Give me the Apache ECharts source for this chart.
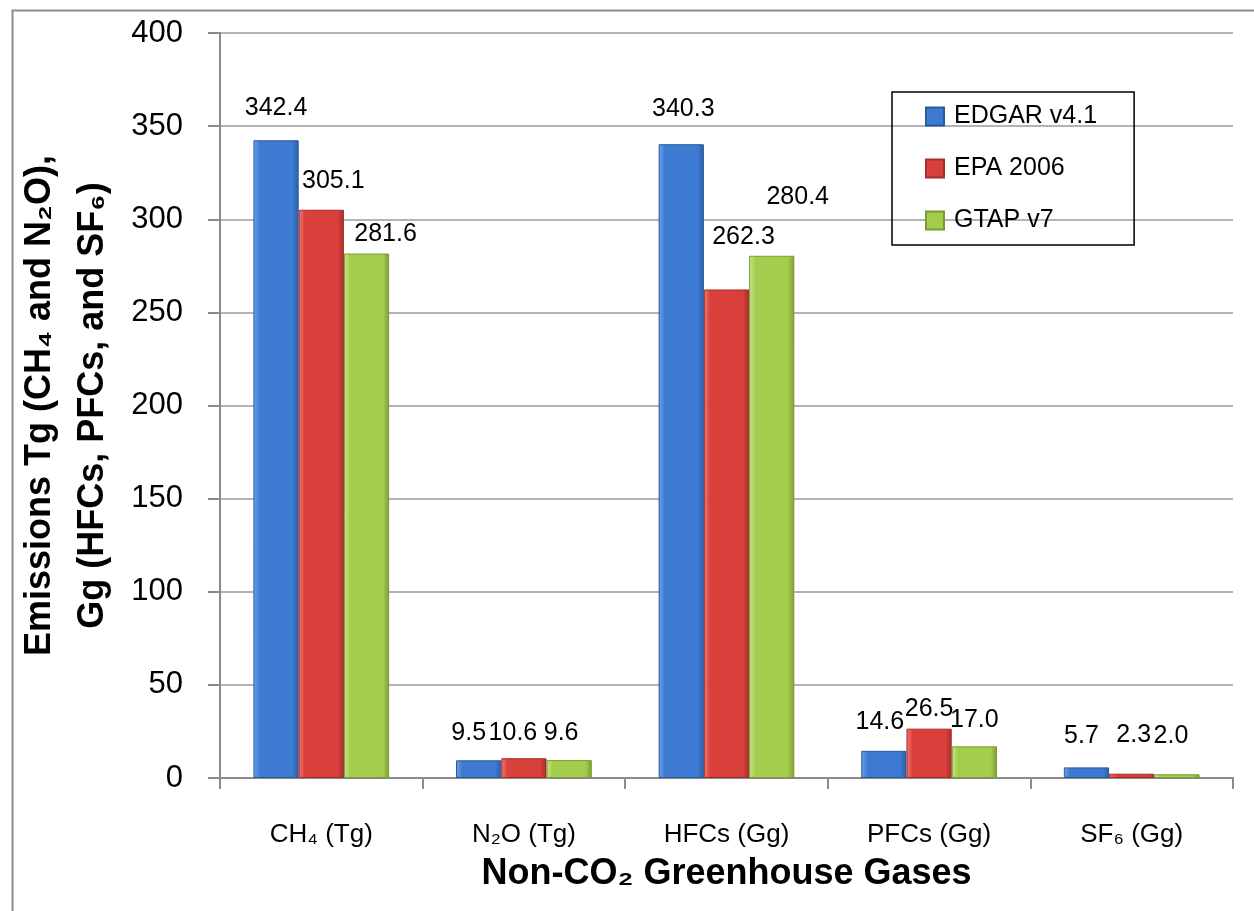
<!DOCTYPE html>
<html><head><meta charset="utf-8">
<script src="https://cdn.jsdelivr.net/npm/echarts@6/dist/echarts.min.js"></script>
<style>html,body{margin:0;padding:0;background:#fff}#c{width:1254px;height:911px}</style>
</head><body><div id="c"></div>
<script>
const categories = ['CH₄ (Tg)', 'N₂O (Tg)', 'HFCs (Gg)', 'PFCs (Gg)', 'SF₆ (Gg)'];
const seriesNames = ['EDGAR v4.1', 'EPA 2006', 'GTAP v7'];
const edgar = [342.4, 9.5, 340.3, 14.6, 5.7];
const epa = [305.1, 10.6, 262.3, 26.5, 2.3];
const gtap = [281.6, 9.6, 280.4, 17.0, 2.0];
const yMin = 0, yMax = 400, yStep = 50;
const yTitle = 'Emissions Tg (CH₄ and N₂O),\nGg (HFCs, PFCs, and SF₆)';
const xTitle = 'Non-CO₂ Greenhouse Gases';

// label nudges (style only)
const edgarLabelOffset = [[0,-15],[-10,-10],[2,-18],[-4,-11],[-5,-14]];
const epaLabelOffset = [[12,-11],[-11,-8],[17,-35],[0,-2],[2,-21]];
const gtapLabelOffset = [[19,-2],[-8,-10],[26,-41],[0,-9],[-6,-21]];

const FONT = '"Liberation Sans", Arial, sans-serif';
const chart = echarts.init(document.getElementById('c'), null, {renderer: 'canvas'});

function grad(light, main, dark) {
  return new echarts.graphic.LinearGradient(0, 0, 1, 0, [
    {offset: 0, color: light}, {offset: 0.14, color: main},
    {offset: 0.86, color: main}, {offset: 1, color: dark}
  ]);
}
const styles = [
  {fill: grad('#6fa3ea', '#3d7bd2', '#2a5ea8'), border: '#2b5a9c'},
  {fill: grad('#f07a74', '#d9403b', '#a82e2a'), border: '#a32d29'},
  {fill: grad('#c8e68c', '#a4cd4d', '#7c9d33'), border: '#7a9a33'}
];
function mk(name, vals, offs, st) {
  return {
    name: name, type: 'bar', barGap: '0%', barCategoryGap: '33%',
    itemStyle: {color: st.fill, borderColor: st.border, borderWidth: 1},
    label: {show: true, position: 'top', distance: 5, fontFamily: FONT, fontSize: 25, color: '#000',
      formatter: p => p.value.toFixed(1)},
    data: vals.map((v, i) => ({value: v, label: {offset: offs[i]}}))
  };
}

chart.setOption({
  animation: false,
  backgroundColor: '#fff',
  grid: {left: 220, right: 21, top: 33, bottom: 133, containLabel: false},
  legend: {
    orient: 'vertical', left: 892, top: 92,
    borderColor: '#000', borderWidth: 1.5, padding: [12, 37, 12, 33],
    itemWidth: 18, itemHeight: 18, itemGap: 27, icon: 'rect',
    textStyle: {fontFamily: FONT, fontSize: 25, color: '#000', padding: [0, 0, 0, 5]},
    data: seriesNames
  },
  xAxis: {
    type: 'category', data: categories,
    axisLine: {lineStyle: {color: '#8a8a8a', width: 2}},
    axisTick: {show: true, length: 11, lineStyle: {color: '#8a8a8a', width: 2}},
    axisLabel: {margin: 44, fontFamily: FONT, fontSize: 26, color: '#000'},
    name: xTitle, nameLocation: 'middle', nameGap: 78,
    nameTextStyle: {fontFamily: FONT, fontSize: 36, fontWeight: 'bold', color: '#000'}
  },
  yAxis: {
    type: 'value', min: yMin, max: yMax, interval: yStep,
    axisLine: {show: true, lineStyle: {color: '#8a8a8a', width: 2}},
    axisTick: {show: true, length: 12, lineStyle: {color: '#8a8a8a', width: 2}},
    splitLine: {show: true, lineStyle: {color: '#9a9a9a', width: 1.5}},
    axisLabel: {margin: 37, fontFamily: FONT, fontSize: 31, color: '#000'},
    name: yTitle, nameLocation: 'middle', nameRotate: 90, nameGap: 100,
    nameTextStyle: {fontFamily: FONT, fontSize: 36, fontWeight: 'bold', color: '#000', lineHeight: 53}
  },
  graphic: [{
    type: 'rect', left: 10, top: 8, silent: true, z: -10,
    shape: {x: 0, y: 0, width: 1300, height: 1000},
    style: {fill: 'none', stroke: '#8c8c8c', lineWidth: 2}
  }],
  series: [
    mk(seriesNames[0], edgar, edgarLabelOffset, styles[0]),
    mk(seriesNames[1], epa, epaLabelOffset, styles[1]),
    mk(seriesNames[2], gtap, gtapLabelOffset, styles[2])
  ]
});
</script></body></html>
